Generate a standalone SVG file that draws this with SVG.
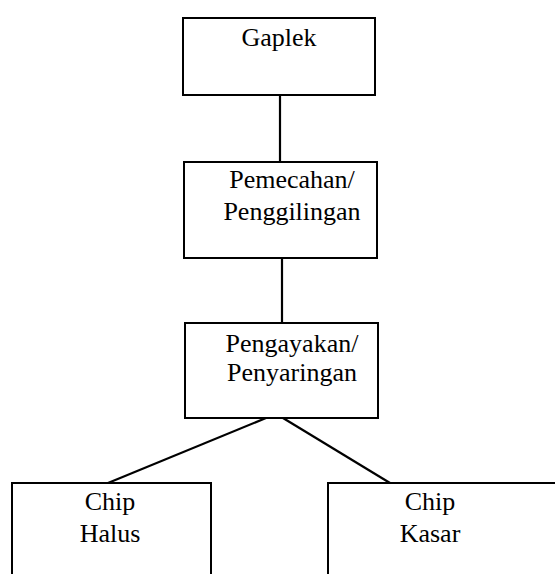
<svg xmlns="http://www.w3.org/2000/svg" width="555" height="574" viewBox="0 0 555 574">
<style>
.box{fill:#fff;stroke:#000;stroke-width:2}
.lbl{font-family:'Liberation Serif','Times New Roman',serif;font-size:26px;fill:#000;text-anchor:middle}
.con{stroke:#000;stroke-width:2.2;fill:none}
</style>
<rect width="555" height="574" fill="#fff"/>
<g id="connectors">
<line class="con" x1="280" y1="95" x2="280" y2="162"/>
<line class="con" x1="282" y1="258" x2="282" y2="323"/>
<line class="con" x1="266" y1="418" x2="108" y2="483"/>
<line class="con" x1="283" y1="418" x2="390" y2="483"/>
</g>
<g id="gaplek">
<rect class="box" x="183" y="18" width="192" height="77"/>
<text class="lbl" x="279" y="46">Gaplek</text>
</g>
<g id="pemecahan">
<rect class="box" x="184" y="162" width="193" height="96"/>
<text class="lbl" x="292" y="188">Pemecahan/</text>
<text class="lbl" x="292" y="220">Penggilingan</text>
</g>
<g id="pengayakan">
<rect class="box" x="185" y="323" width="193" height="95"/>
<text class="lbl" x="292" y="352">Pengayakan/</text>
<text class="lbl" x="292" y="381">Penyaringan</text>
</g>
<g id="chip-halus">
<rect class="box" x="12" y="483" width="199" height="100"/>
<text class="lbl" x="110" y="510">Chip</text>
<text class="lbl" x="110" y="542">Halus</text>
</g>
<g id="chip-kasar">
<rect class="box" x="328" y="483" width="240" height="100"/>
<text class="lbl" x="430" y="510">Chip</text>
<text class="lbl" x="430" y="542">Kasar</text>
</g>
</svg>
